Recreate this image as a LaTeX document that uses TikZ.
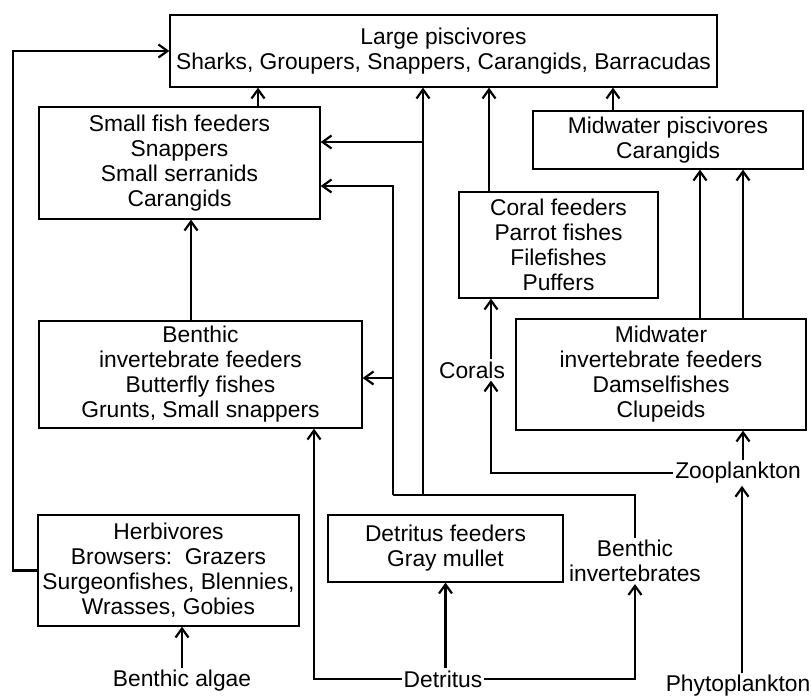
\documentclass[tikz,border=0pt]{standalone}
\usepackage{fontspec}
\setmainfont{Liberation Sans}
\usepackage{tikz}
\usetikzlibrary{arrows.meta}
\tikzset{
  box/.style={draw, line width=1.3pt, align=center, inner sep=0pt},
  term/.style={align=center, inner sep=2pt},
  arrow/.style={-{Straight Barb[length=9pt, width=13pt]}, line width=2.2pt},
  link/.style={line width=2.2pt},
  every node/.style={font=\fontsize{22.8}{25}\selectfont}
}

\begin{document}
\begin{tikzpicture}[x=1pt, y=-1pt]
    \useasboundingbox[fill=white] (0,0) rectangle (811,698);

    % boxes
    \node[box, minimum width=547pt, minimum height=72pt] (lpisc) at (443.5,51) {Large piscivores\\Sharks, Groupers, Snappers, Carangids, Barracudas};
    \node[box, minimum width=281pt, minimum height=112pt] (sfish) at (179.5,163) {Small fish feeders\\Snappers\\Small serranids\\Carangids};
    \node[box, minimum width=323pt, minimum height=107pt] (bfeed) at (200.5,374.5) {Benthic\\invertebrate feeders\\Butterfly fishes\\Grunts, Small snappers};
    \node[box, minimum width=261pt, minimum height=111pt] (herb) at (168.5,570.5) {Herbivores\\Browsers:\ \ Grazers\\Surgeonfishes, Blennies,\\Wrasses, Gobies};
    \node[box, minimum width=235pt, minimum height=67pt] (dfeed) at (445.5,548.5) {Detritus feeders\\Gray mullet};
    \node[box, minimum width=199pt, minimum height=106pt] (cfeed) at (558.5,245) {Coral feeders\\Parrot fishes\\Filefishes\\Puffers};
    \node[box, minimum width=270pt, minimum height=58pt] (mpisc) at (668,140) {Midwater piscivores\\Carangids};
    \node[box, minimum width=290pt, minimum height=111pt] (mfeed) at (661,374.5) {Midwater\\invertebrate feeders\\Damselfishes\\Clupeids};

    % sources
    \node[term] (algae) at (182,681) {Benthic algae};
    \node[term] (det) at (443,679) {Detritus};
    \node[term] (binv) at (635,561) {Benthic\\invertebrates};
    \node[term] (phyto) at (738,686) {Phytoplankton};
    \node[term] (zoo) at (738,473) {Zooplankton};
    \node[term] (corals) at (472,370) {Corals};

    \coordinate (lft) at (13,0);
    \coordinate (jl) at (393,495);
    \coordinate (jr) at (423,495);

    % herbivores to the top
    \draw[arrow] (herb.west) -- (herb.west -| lft) |- (lpisc.west);
    \draw[arrow] (algae.north) -- (algae.north |- herb.south);

    % into the large piscivores
    \draw[arrow] (sfish.north -| 258,0) -- (lpisc.south -| 258,0);
    \draw[arrow] (cfeed.north -| 489,0) -- (lpisc.south -| 489,0);
    \draw[arrow] (mpisc.north -| 613,0) -- (lpisc.south -| 613,0);
    \draw[arrow] (bfeed.north -| 191,0) -- (sfish.south -| 191,0);

    % benthic invertebrates
    \draw[link] (binv.north) |- (jl);
    \draw[arrow] (jl) |- (sfish.east |- 0,186);
    \draw[arrow] (jl |- 0,378) -- (bfeed.east |- 0,378);
    \draw[arrow] (jr) -- (jr |- lpisc.south);
    \draw[arrow] (jr |- 0,142) -- (sfish.east |- 0,142);

    % detritus
    \draw[arrow] (det.west) -| (bfeed.south -| 314,0);
    \draw[arrow] (det.north -| dfeed.south) -- (dfeed.south);
    \draw[arrow] (det.east) -| (binv.south);

    % plankton and corals
    \draw[arrow] (phyto.north -| 742,0) -- (zoo.south -| 742,0);
    \draw[arrow] (zoo.north -| 743,0) -- (mfeed.south -| 743,0);
    \draw[arrow] (zoo.west) -| ([xshift=19pt]corals.south);
    \draw[arrow] ([xshift=19pt]corals.north) -- ([xshift=19pt]corals.north |- cfeed.south);
    \draw[arrow] (mfeed.north -| 700,0) -- (mpisc.south -| 700,0);
    \draw[arrow] (mfeed.north -| 743,0) -- (mpisc.south -| 743,0);
\end{tikzpicture}
\end{document}
